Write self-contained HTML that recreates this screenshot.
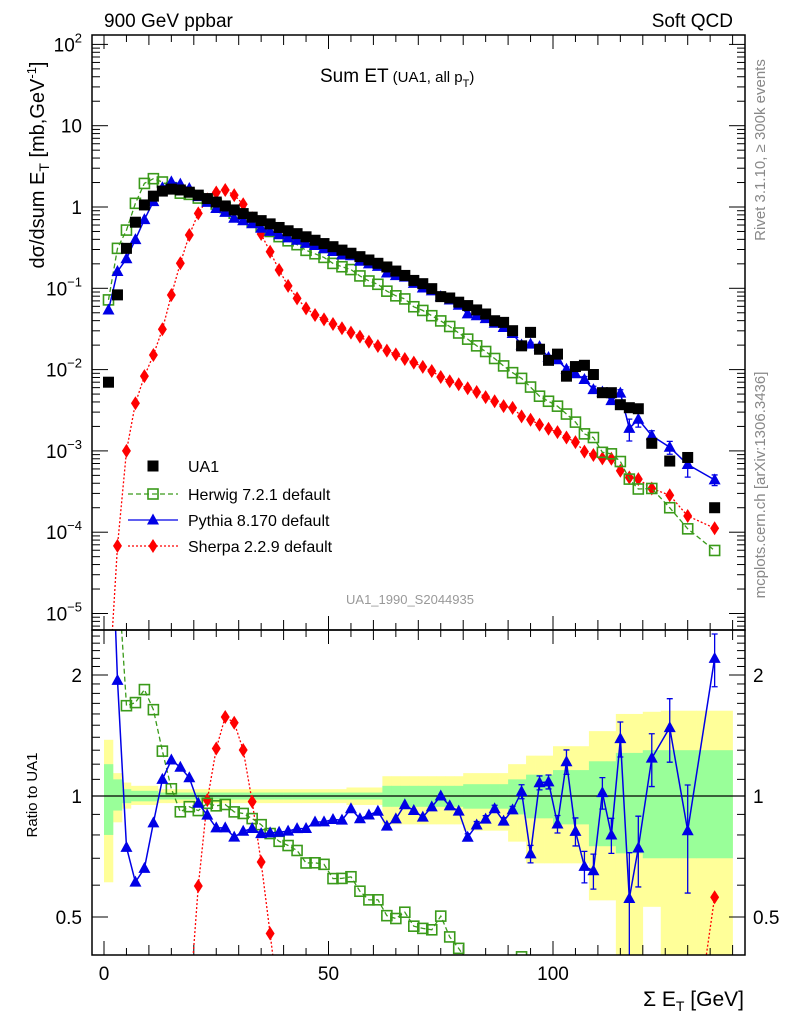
<!DOCTYPE html>
<html><head><meta charset="utf-8">
<style>
html,body{margin:0;padding:0;background:#fff;width:786px;height:1024px;overflow:hidden;}
svg{display:block;position:absolute;left:0;top:0;font-family:"Liberation Sans",sans-serif;}
</style></head>
<body>
<svg id="chart" width="786" height="1024" viewBox="0 0 786 1024" xmlns="http://www.w3.org/2000/svg">
<defs>
<clipPath id="clipTop"><rect x="92" y="35" width="653" height="595"/></clipPath>
<clipPath id="clipBot"><rect x="92" y="630" width="653" height="325"/></clipPath>
</defs>
<rect x="0" y="0" width="786" height="1024" fill="#fff"/>
<text x="104" y="27" font-size="19">900 GeV ppbar</text>
<text x="733" y="27" font-size="19" text-anchor="end">Soft QCD</text>
<text x="320" y="82" font-size="19">Sum ET<tspan font-size="15" dx="4">(UA1, all p</tspan><tspan font-size="11" dy="5">T</tspan><tspan font-size="15" dy="-5">)</tspan></text>
<text transform="translate(44,165) rotate(-90)" font-size="20" text-anchor="middle">dσ/dsum E<tspan font-size="14" dy="5">T</tspan><tspan dy="-5"> [mb,GeV</tspan><tspan font-size="13" dy="-8">-1</tspan><tspan dy="8">]</tspan></text>
<text transform="translate(765,150) rotate(-90)" font-size="15" fill="#888" text-anchor="middle">Rivet 3.1.10, ≥ 300k events</text>
<text transform="translate(765,485) rotate(-90)" font-size="15" fill="#888" text-anchor="middle">mcplots.cern.ch [arXiv:1306.3436]</text>
<text x="410" y="604" font-size="13" fill="#999" text-anchor="middle">UA1_1990_S2044935</text>
<text transform="translate(37,795) rotate(-90)" font-size="15" text-anchor="middle">Ratio to UA1</text>
<text x="744" y="1006" font-size="21" text-anchor="end">Σ E<tspan font-size="14" dy="5">T</tspan><tspan dy="-5"> [GeV]</tspan></text>
<g id="bands" clip-path="url(#clipBot)"></g>
<g id="ticks"></g>
<g id="topSeries" clip-path="url(#clipTop)"></g>
<g id="botSeries" clip-path="url(#clipBot)"></g>
<rect x="92" y="35" width="653" height="595" fill="none" stroke="#000" stroke-width="1.5"/>
<rect x="92" y="630" width="653" height="325" fill="none" stroke="#000" stroke-width="1.5"/>
<g id="legend"></g>
</svg>
<script>
const xCenters=[1,3,5,7,9,11,13,15,17,19,21,23,25,27,29,31,33,35,37,39,41,43,45,47,49,51,53,55,57,59,61,63,65,67,69,71,73,75,77,79,81,83,85,87,89,91,93,95,97,99,101,103,105,107,109,111,113,115,117,119,122,126,130,136];
const xLo=[0,2,4,6,8,10,12,14,16,18,20,22,24,26,28,30,32,34,36,38,40,42,44,46,48,50,52,54,56,58,60,62,64,66,68,70,72,74,76,78,80,82,84,86,88,90,92,94,96,98,100,102,104,106,108,110,112,114,116,118,120,124,128,132];
const xHi=[2,4,6,8,10,12,14,16,18,20,22,24,26,28,30,32,34,36,38,40,42,44,46,48,50,52,54,56,58,60,62,64,66,68,70,72,74,76,78,80,82,84,86,88,90,92,94,96,98,100,102,104,106,108,110,112,114,116,118,120,124,128,132,140];
const ua1=[0.007,0.083,0.31,0.65,1.06,1.36,1.57,1.66,1.62,1.52,1.40,1.27,1.15,1.03,0.92,0.83,0.75,0.68,0.62,0.56,0.51,0.47,0.43,0.39,0.355,0.325,0.295,0.27,0.245,0.223,0.203,0.183,0.163,0.144,0.125,0.114,0.099,0.079,0.076,0.0675,0.0613,0.0542,0.0483,0.0399,0.0381,0.0301,0.0196,0.0287,0.0178,0.0130,0.0155,0.0083,0.0109,0.0113,0.0087,0.0052,0.0052,0.0037,0.0034,0.0033,0.00124,0.00075,0.00083,0.00020];
const herwig=[0.072,0.31,0.52,1.11,1.95,2.23,2.03,1.73,1.48,1.43,1.288,1.218,1.087,0.981,0.84,0.751,0.659,0.577,0.50,0.432,0.384,0.344,0.293,0.266,0.240,0.2025,0.184,0.170,0.142,0.123,0.112,0.0922,0.0808,0.074,0.0593,0.0534,0.046,0.0397,0.0339,0.0282,0.0237,0.0196,0.0167,0.0137,0.0111,0.00917,0.0078,0.0061,0.00471,0.00408,0.00355,0.00284,0.00226,0.00162,0.00146,0.00096,0.00092,0.00074,0.00045,0.00034,0.000345,0.0002,0.00011,0.0000596];
const pythia=[0.054,0.161,0.231,0.397,0.70,1.166,1.727,2.04,1.91,1.687,1.343,1.138,0.958,0.858,0.727,0.678,0.6225,0.548,0.502,0.455,0.417,0.390,0.357,0.336,0.306,0.284,0.257,0.251,0.215,0.200,0.186,0.154,0.143,0.137,0.115,0.101,0.093,0.079,0.0718,0.0619,0.0484,0.0459,0.0423,0.0371,0.033,0.0278,0.0201,0.0206,0.0192,0.0141,0.0132,0.0101,0.0089,0.00755,0.00567,0.0053,0.00416,0.00514,0.00189,0.00245,0.00154,0.00111,0.00068,0.00044];
const pythiaRelErr=[0,0,0,0,0,0,0,0,0,0,0,0,0,0,0,0,0,0,0,0,0,0,0,0,0,0,0,0,0,0,0,0,0,0,0,0,0,0,0,0,0.02,0.02,0.02,0.02,0.02,0.02,0.04,0.05,0.04,0.04,0.05,0.07,0.08,0.09,0.1,0.09,0.1,0.1,0.3,0.2,0.15,0.18,0.3,0.15];
const sherpa=[0.000001,0.000068,0.001,0.00385,0.0083,0.0151,0.0313,0.0828,0.203,0.453,0.836,1.24,1.51,1.62,1.40,1.08,0.726,0.466,0.282,0.168,0.107,0.0753,0.0567,0.047,0.0415,0.0364,0.0322,0.0285,0.0254,0.022,0.0195,0.0171,0.0154,0.0135,0.0122,0.0108,0.0096,0.0081,0.0072,0.0066,0.0059,0.0053,0.00458,0.00408,0.00355,0.00338,0.00266,0.00242,0.0021,0.00187,0.0017,0.00146,0.00128,0.00098,0.00089,0.00081,0.0008,0.00057,0.00047,0.00045,0.000345,0.000285,0.000158,0.000112];
const yellowUp=[1.38,1.14,1.08,1.06,1.06,1.06,1.04,1.04,1.04,1.04,1.04,1.04,1.04,1.04,1.04,1.04,1.04,1.04,1.04,1.04,1.04,1.04,1.04,1.04,1.04,1.04,1.04,1.05,1.05,1.05,1.05,1.12,1.12,1.12,1.12,1.12,1.12,1.12,1.12,1.12,1.14,1.14,1.14,1.14,1.14,1.2,1.2,1.26,1.26,1.26,1.33,1.33,1.33,1.33,1.45,1.45,1.45,1.6,1.6,1.6,1.62,1.63,1.63,1.63];
const yellowDn=[0.61,0.86,0.93,0.95,0.95,0.95,0.96,0.96,0.96,0.96,0.96,0.96,0.96,0.96,0.96,0.96,0.96,0.96,0.96,0.96,0.96,0.96,0.96,0.96,0.96,0.96,0.96,0.95,0.95,0.95,0.95,0.85,0.85,0.85,0.85,0.85,0.85,0.85,0.85,0.85,0.82,0.82,0.82,0.82,0.82,0.77,0.77,0.68,0.68,0.68,0.68,0.68,0.68,0.68,0.55,0.55,0.55,0.38,0.38,0.38,0.53,0.38,0.38,0.38];
const greenUp=[1.2,1.1,1.04,1.03,1.03,1.03,1.02,1.02,1.02,1.02,1.02,1.02,1.02,1.02,1.02,1.02,1.02,1.02,1.02,1.02,1.02,1.02,1.02,1.02,1.02,1.02,1.02,1.02,1.02,1.02,1.02,1.06,1.06,1.06,1.06,1.06,1.06,1.06,1.06,1.06,1.07,1.07,1.07,1.07,1.07,1.1,1.1,1.13,1.13,1.13,1.16,1.16,1.16,1.16,1.22,1.22,1.22,1.28,1.28,1.28,1.3,1.3,1.3,1.3];
const greenDn=[0.8,0.92,0.96,0.97,0.97,0.97,0.98,0.98,0.98,0.98,0.98,0.98,0.98,0.98,0.98,0.98,0.98,0.98,0.98,0.98,0.98,0.98,0.98,0.98,0.98,0.98,0.98,0.98,0.98,0.98,0.98,0.94,0.94,0.94,0.94,0.94,0.94,0.94,0.94,0.94,0.93,0.93,0.93,0.93,0.93,0.9,0.9,0.88,0.88,0.88,0.85,0.85,0.85,0.85,0.75,0.75,0.75,0.72,0.72,0.72,0.7,0.7,0.7,0.7];
const xTickMajor=[0,50,100];
const xTickLabels=["0","50","100"];
const yTickExp=[2,1,0,-1,-2,-3,-4,-5];
const ratioTickMajor=[2,1,0.5];
const ratioTickLabels=["2","1","0.5"];

const NS="http://www.w3.org/2000/svg";
const X0=104, XS=4.49;
function xPx(g){return X0+XS*g;}
function yTop(v){return 207-81.3*Math.log10(v);}
function yRat(r){return 796-121*Math.log2(r);}
function mk(tag,attrs,parent){const e=document.createElementNS(NS,tag);for(const k in attrs)e.setAttribute(k,attrs[k]);parent.appendChild(e);return e;}

const bands=document.getElementById('bands');
for(let i=0;i<xCenters.length;i++){
  const x1=xPx(xLo[i]),x2=xPx(xHi[i]);
  const y=mk('rect',{x:x1,y:yRat(yellowUp[i]),width:x2-x1+0.3,height:yRat(yellowDn[i])-yRat(yellowUp[i]),fill:'#ffff99'},bands);
  
  
}
for(let i=0;i<xCenters.length;i++){
  const x1=xPx(xLo[i]),x2=xPx(xHi[i]);
  const g=mk('rect',{x:x1,y:yRat(greenUp[i]),width:x2-x1+0.3,height:yRat(greenDn[i])-yRat(greenUp[i]),fill:'#99ff99'},bands);
  
  
}
const unity=mk('line',{x1:92,x2:745,y1:yRat(1),y2:yRat(1),stroke:'#000','stroke-width':1.3},bands);



const T=document.getElementById('ticks');
function tick(x1,y1,x2,y2){const t=mk('line',{x1:x1,y1:y1,x2:x2,y2:y2,stroke:'#000','stroke-width':1},T);}
for(let g=0;g<=140;g+=5){
  const x=xPx(g);const maj=xTickMajor.indexOf(g)>=0;const L=maj?14:(g%10===0?10:7);
  tick(x,955,x,955-L);tick(x,630,x,630+L);tick(x,630,x,630-L);tick(x,35,x,35+L);
}
xTickMajor.forEach((g,i)=>{const t=mk('text',{x:xPx(g),y:980,'font-size':19,'text-anchor':'middle'},T);t.textContent=xTickLabels[i];});
for(let e=-6;e<=2;e++){
  for(let m=1;m<10;m++){
    const y=yTop(m*Math.pow(10,e));if(y<35||y>630)continue;
    const L=m===1?16:8;tick(92,y,92+L,y);tick(745,y,745-L,y);
  }
}
yTickExp.forEach(e=>{
  const t=mk('text',{x:82,y:yTop(Math.pow(10,e))+7,'font-size':19,'text-anchor':'end'},T);
  
  
  if(e===0)t.textContent='1';else if(e===1)t.textContent='10';
  else{t.textContent='10';const s=mk('tspan',{'font-size':13,dy:-9},t);s.textContent=String(e).replace('-','−');}
});
for(let r=0.4;r<=2.55;r+=0.1){
  const rr=Math.round(r*10)/10;const y=yRat(rr);if(y<630||y>955)continue;
  const maj=ratioTickMajor.indexOf(rr)>=0;const L=maj?16:8;tick(92,y,92+L,y);tick(745,y,745-L,y);
}
ratioTickMajor.forEach((r,i)=>{
  const a=mk('text',{x:82,y:yRat(r)+7,'font-size':19,'text-anchor':'end'},T);a.textContent=ratioTickLabels[i];
  
  
  const b=mk('text',{x:753,y:yRat(r)+7,'font-size':19},T);b.textContent=ratioTickLabels[i];
  
  
});

function marker(type,x,y,parent,color){
  let e;
  if(type==='sq')e=mk('rect',{x:x-5.5,y:y-5.5,width:11,height:11,fill:'#000'},parent);
  else if(type==='osq')e=mk('rect',{x:x-5,y:y-5,width:10,height:10,fill:'none',stroke:color,'stroke-width':1.6},parent);
  else if(type==='tri')e=mk('polygon',{points:`${x},${y-6.5} ${x+6},${y+4.5} ${x-6},${y+4.5}`,fill:color},parent);
  else e=mk('polygon',{points:`${x},${y-7} ${x+4.5},${y} ${x},${y+7} ${x-4.5},${y}`,fill:color},parent);
  return e;
}
function series(parent,vals,yf,color,dash,type,name,err){
  let d='';vals.forEach((v,i)=>{d+=(i?'L':'M')+xPx(xCenters[i]).toFixed(1)+','+yf(v).toFixed(1);});
  const p=mk('path',{d:d,fill:'none',stroke:color,'stroke-width':type==='tri'?1.5:1.3,'stroke-dasharray':dash},parent);
  
  
  vals.forEach((v,i)=>{
    const x=xPx(xCenters[i]),y=yf(v);
    if(err&&err[i]>0){
      const up=yf(v*(1+err[i])),dn=yf(v*(1-err[i]));
      const eb=mk('path',{d:`M${x},${up}L${x},${dn}M${x-3},${up}L${x+3},${up}M${x-3},${dn}L${x+3},${dn}`,stroke:color,'stroke-width':1.3,fill:'none'},parent);
      
      
    }
    const m=marker(type,x,y,parent,color);
    
    
  });
}
const TS=document.getElementById('topSeries');
series(TS,sherpa,yTop,'#ff0000','2,2','dia','sherpa');
series(TS,herwig,yTop,'#3a9a1a','5,3','osq','herwig');
series(TS,pythia,yTop,'#0000e6','','tri','pythia',pythiaRelErr);
ua1.forEach((v,i)=>{const m=marker('sq',xPx(xCenters[i]),yTop(v),TS);});

const BS=document.getElementById('botSeries');
series(BS,sherpa.map((v,i)=>v/ua1[i]),yRat,'#ff0000','2,2','dia','sherpa-ratio');
series(BS,herwig.map((v,i)=>v/ua1[i]),yRat,'#3a9a1a','5,3','osq','herwig-ratio');
series(BS,pythia.map((v,i)=>v/ua1[i]),yRat,'#0000e6','','tri','pythia-ratio',pythiaRelErr);

const LG=document.getElementById('legend');
const entries=[['UA1','sq','#000','',466],['Herwig 7.2.1 default','osq','#3a9a1a','5,3',494],['Pythia 8.170 default','tri','#0000e6','',520],['Sherpa 2.2.9 default','dia','#ff0000','2,2',546]];
entries.forEach(en=>{
  const g=mk('g',{},LG);
  
  
  if(en[1]!=='sq'){mk('line',{x1:128,x2:178,y1:en[4],y2:en[4],stroke:en[2],'stroke-width':1.3,'stroke-dasharray':en[3]},g);}
  marker(en[1],153,en[4],g,en[2]);
  const t=mk('text',{x:188,y:en[4]+6,'font-size':16},g);t.textContent=en[0];
});
</script>
</body></html>
